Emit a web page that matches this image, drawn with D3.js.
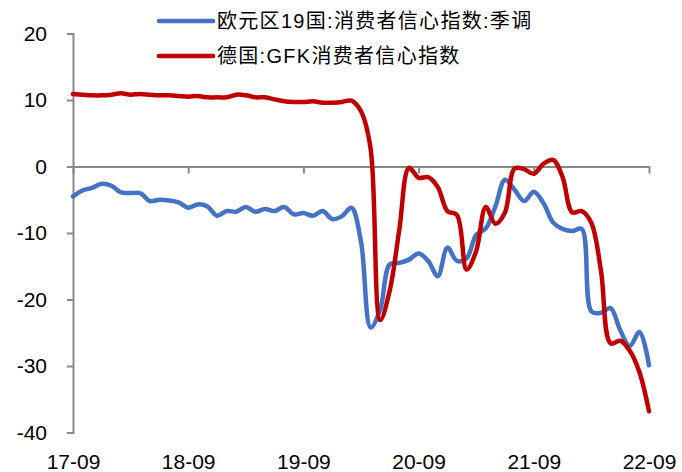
<!DOCTYPE html>
<html>
<head>
<meta charset="utf-8">
<script src="https://cdn.jsdelivr.net/npm/d3@7"></script>
<style>
  html, body { margin: 0; padding: 0; background: #fff; }
  svg { display: block; }
  text { font-family: "Liberation Sans", Arial, "Noto Sans CJK SC", sans-serif; fill: #000; }
</style>
</head>
<body>
<svg id="chart" width="682" height="472"></svg>
<script>
// ---- data (monthly, 2017-09 .. 2022-09) ----
const startMonth = new Date(2017, 8, 1);
const endMonth = new Date(2022, 8, 1);
const months = d3.timeMonth.range(startMonth, d3.timeMonth.offset(endMonth, 1)).map(d3.timeFormat("%y-%m"));

const seriesNames = ["欧元区19国:消费者信心指数:季调", "德国:GFK消费者信心指数"];

const euroConfidence = [
  -4.5, -3.6, -3.2, -2.6, -2.9, -3.9, -4.0, -4.0, -5.2, -5.0, -5.1, -5.4,
  -6.2, -5.7, -6.0, -7.4, -6.7, -6.8, -6.1, -6.8, -6.4, -6.7, -6.1, -7.2,
  -7.0, -7.4, -6.7, -7.9, -7.5, -6.2, -11.3, -24.2, -21.5, -14.7, -14.5, -14.0,
  -13.1, -14.2, -16.5, -12.2, -14.2, -13.8, -10.3, -9.3, -6.0, -2.0, -3.5, -5.2,
  -3.8, -5.5, -8.4, -9.4, -9.7, -9.4, -21.8, -22.0, -21.3, -24.6, -27.0, -24.9,
  -29.9
];

const germanyGfk = [
  10.9, 10.8, 10.7, 10.7, 10.8, 11.0, 10.8, 10.9, 10.8, 10.7, 10.7, 10.6,
  10.5, 10.6, 10.4, 10.4, 10.4, 10.8, 10.7, 10.4, 10.4, 10.1, 9.8, 9.7,
  9.7, 9.8, 9.6, 9.6, 9.7, 9.9, 8.3, 2.7, -23.1, -18.6, -9.4, -0.2,
  -1.7, -1.6, -3.1, -6.7, -7.3, -15.5, -12.7, -6.1, -8.6, -6.9, -0.3, -0.4,
  -1.1, 0.4, 1.0, -1.6, -6.9, -6.7, -8.5, -15.7, -26.6, -26.2, -27.7, -30.9,
  -36.8
];

const xTickLabels = ["17-09", "18-09", "19-09", "20-09", "21-09", "22-09"];
const yTickValues = [-40, -30, -20, -10, 0, 10, 20];
const seriesColors = ["#4472C4", "#C00000"];

// ---- layout ----
const svg = d3.select("#chart");
const plotLeft = 73, plotRight = 649, plotTop = 33.5, plotBottom = 432.5;

const x = d3.scalePoint().domain(months).range([plotLeft, plotRight]);
const y = d3.scaleLinear().domain([-40, 20]).range([plotBottom, plotTop]);

const axisColor = "#898989";

// y axis
const yAxis = svg.append("g")
  .attr("transform", `translate(${plotLeft},0)`)
  .call(d3.axisLeft(y).tickValues(yTickValues).tickSize(6).tickPadding(20).tickFormat(d => String(d)));
yAxis.select(".domain").attr("stroke", axisColor).attr("stroke-width", 2);
yAxis.selectAll(".tick line").attr("stroke", axisColor).attr("stroke-width", 2);
yAxis.selectAll(".tick text")
  .attr("font-size", 21)
  .attr("font-family", "Liberation Sans, Arial, sans-serif")
  .attr("fill", "#000");

// x axis at y = 0 (ticks only)
const xAxis = svg.append("g")
  .attr("transform", `translate(0,${y(0)})`)
  .call(d3.axisBottom(x).tickValues(xTickLabels).tickSize(7).tickSizeOuter(0).tickFormat(""));
xAxis.select(".domain").attr("stroke", axisColor).attr("stroke-width", 2);
xAxis.selectAll(".tick line").attr("stroke", axisColor).attr("stroke-width", 2);

// x tick labels at bottom
const xLabels = svg.append("g")
  .attr("transform", `translate(0,${plotBottom})`)
  .call(d3.axisBottom(x).tickValues(xTickLabels).tickSize(0).tickPadding(22));
xLabels.select(".domain").remove();
xLabels.selectAll(".tick text")
  .attr("font-size", 21)
  .attr("font-family", "Liberation Sans, Arial, sans-serif")
  .attr("fill", "#000");

// lines
const allSeries = [euroConfidence, germanyGfk];
const line = d3.line()
  .x((d, i) => x(months[i]))
  .y(d => y(d))
  .curve(d3.curveCatmullRom.alpha(0.5));

allSeries.forEach((vals, k) => {
  svg.append("path")
    .datum(vals)
    .attr("fill", "none")
    .attr("stroke", seriesColors[k])
    .attr("stroke-width", 4.5)
    .attr("stroke-linejoin", "round")
    .attr("stroke-linecap", "round")
    .attr("d", line);
});

// legend
const legendY = [21, 56];
const legend = svg.append("g");
seriesNames.forEach((name, k) => {
  legend.append("line")
    .attr("x1", 159).attr("x2", 213)
    .attr("y1", legendY[k]).attr("y2", legendY[k])
    .attr("stroke", seriesColors[k])
    .attr("stroke-width", 4.5)
    .attr("stroke-linecap", "round");
  legend.append("text")
    .attr("x", 217)
    .attr("y", legendY[k])
    .attr("dy", "0.35em")
    .attr("font-size", 20)
    .attr("letter-spacing", "1.3px")
    .attr("font-family", "Liberation Sans, Arial, Noto Sans CJK SC, sans-serif")
    .text(name);
});
</script>
</body>
</html>
